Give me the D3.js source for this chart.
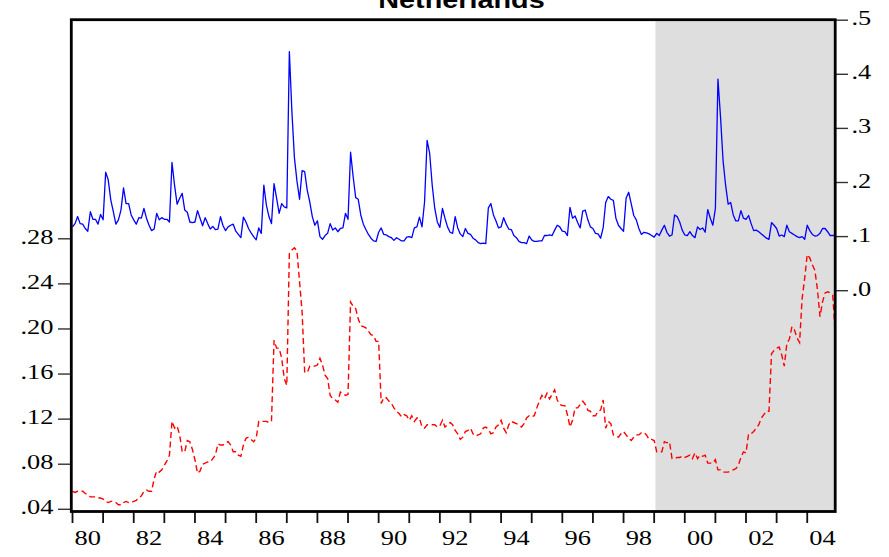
<!DOCTYPE html>
<html>
<head>
<meta charset="utf-8">
<script src="https://cdn.jsdelivr.net/npm/d3@7"></script>
<style>
  html, body { margin: 0; padding: 0; background: #ffffff; }
  svg { display: block; }
</style>
</head>
<body>
<script>
// ---------------- DATA (monthly, 1980M01 - 2004M12) ----------------
const startYear = 1980;
const title = "Netherlands";

// Blue solid series (right axis)
const blueSeries = [
  0.118, 0.124, 0.137, 0.124, 0.123, 0.115, 0.110, 0.146, 0.132, 0.132, 0.123, 0.141,
  0.131, 0.219, 0.205, 0.168, 0.146, 0.123, 0.131, 0.149, 0.190, 0.161, 0.161, 0.140,
  0.131, 0.123, 0.135, 0.134, 0.152, 0.134, 0.121, 0.111, 0.114, 0.143, 0.131, 0.135,
  0.132, 0.132, 0.127, 0.237, 0.195, 0.160, 0.171, 0.180, 0.149, 0.145, 0.127, 0.126,
  0.127, 0.148, 0.134, 0.120, 0.135, 0.124, 0.114, 0.119, 0.113, 0.114, 0.137, 0.120,
  0.111, 0.118, 0.121, 0.123, 0.110, 0.104, 0.098, 0.136, 0.127, 0.115, 0.107, 0.100,
  0.094, 0.116, 0.106, 0.195, 0.158, 0.137, 0.124, 0.198, 0.171, 0.143, 0.161, 0.155,
  0.153, 0.442, 0.331, 0.245, 0.202, 0.169, 0.222, 0.220, 0.186, 0.164, 0.137, 0.121,
  0.129, 0.100, 0.095, 0.102, 0.106, 0.124, 0.112, 0.116, 0.109, 0.115, 0.116, 0.143,
  0.132, 0.256, 0.211, 0.172, 0.169, 0.140, 0.123, 0.113, 0.104, 0.097, 0.092, 0.091,
  0.108, 0.116, 0.104, 0.103, 0.100, 0.098, 0.093, 0.098, 0.095, 0.092, 0.092, 0.099,
  0.100, 0.098, 0.116, 0.118, 0.136, 0.118, 0.164, 0.278, 0.254, 0.195, 0.152, 0.127,
  0.117, 0.152, 0.134, 0.118, 0.108, 0.106, 0.137, 0.116, 0.105, 0.100, 0.115, 0.106,
  0.104, 0.097, 0.094, 0.089, 0.087, 0.088, 0.087, 0.153, 0.161, 0.140, 0.129, 0.116,
  0.118, 0.135, 0.123, 0.114, 0.113, 0.102, 0.098, 0.091, 0.089, 0.089, 0.087, 0.101,
  0.094, 0.091, 0.091, 0.092, 0.092, 0.102, 0.102, 0.103, 0.102, 0.112, 0.121, 0.118,
  0.110, 0.109, 0.102, 0.154, 0.134, 0.138, 0.126, 0.116, 0.147, 0.149, 0.131, 0.118,
  0.115, 0.106, 0.105, 0.097, 0.116, 0.163, 0.174, 0.169, 0.167, 0.134, 0.121, 0.115,
  0.110, 0.171, 0.182, 0.161, 0.139, 0.131, 0.115, 0.104, 0.108, 0.107, 0.105, 0.102,
  0.099, 0.106, 0.102, 0.112, 0.121, 0.108, 0.101, 0.103, 0.140, 0.137, 0.127, 0.112,
  0.103, 0.102, 0.109, 0.102, 0.098, 0.118, 0.113, 0.116, 0.108, 0.150, 0.134, 0.121,
  0.152, 0.391, 0.322, 0.241, 0.195, 0.160, 0.163, 0.140, 0.129, 0.129, 0.148, 0.134,
  0.132, 0.139, 0.124, 0.111, 0.112, 0.109, 0.105, 0.101, 0.097, 0.095, 0.126, 0.121,
  0.115, 0.101, 0.103, 0.100, 0.121, 0.109, 0.106, 0.103, 0.100, 0.098, 0.100, 0.095,
  0.121, 0.111, 0.104, 0.101, 0.102, 0.106, 0.115, 0.115, 0.109, 0.102, 0.102, 0.102
];

// Red dashed series (left axis)
const redSeries = [
  0.056, 0.055, 0.056, 0.056, 0.056, 0.054, 0.053, 0.051, 0.051, 0.051, 0.050, 0.050,
  0.049, 0.047, 0.046, 0.047, 0.047, 0.046, 0.044, 0.044, 0.046, 0.047, 0.046, 0.046,
  0.047, 0.048, 0.050, 0.052, 0.056, 0.057, 0.056, 0.056, 0.067, 0.074, 0.073, 0.075,
  0.079, 0.083, 0.088, 0.118, 0.112, 0.114, 0.106, 0.091, 0.091, 0.101, 0.100, 0.093,
  0.084, 0.072, 0.074, 0.080, 0.081, 0.082, 0.082, 0.085, 0.088, 0.098, 0.097, 0.097,
  0.099, 0.100, 0.097, 0.091, 0.091, 0.088, 0.087, 0.097, 0.103, 0.104, 0.102, 0.100,
  0.103, 0.118, 0.118, 0.118, 0.118, 0.117, 0.118, 0.190, 0.183, 0.183, 0.174, 0.156,
  0.150, 0.267, 0.270, 0.272, 0.269, 0.242, 0.215, 0.162, 0.161, 0.167, 0.167, 0.167,
  0.168, 0.174, 0.168, 0.159, 0.156, 0.141, 0.138, 0.137, 0.135, 0.144, 0.143, 0.141,
  0.142, 0.224, 0.220, 0.218, 0.209, 0.203, 0.202, 0.201, 0.198, 0.195, 0.194, 0.189,
  0.189, 0.134, 0.139, 0.139, 0.136, 0.134, 0.130, 0.127, 0.125, 0.122, 0.124, 0.123,
  0.119, 0.123, 0.118, 0.121, 0.121, 0.113, 0.112, 0.115, 0.115, 0.115, 0.115, 0.113,
  0.114, 0.119, 0.113, 0.115, 0.117, 0.115, 0.110, 0.107, 0.102, 0.104, 0.109, 0.110,
  0.112, 0.107, 0.105, 0.106, 0.107, 0.112, 0.113, 0.111, 0.107, 0.108, 0.113, 0.115,
  0.119, 0.112, 0.108, 0.115, 0.118, 0.117, 0.116, 0.115, 0.113, 0.116, 0.121, 0.123,
  0.122, 0.123, 0.130, 0.136, 0.141, 0.138, 0.143, 0.138, 0.142, 0.146, 0.137, 0.133,
  0.132, 0.132, 0.124, 0.113, 0.119, 0.130, 0.130, 0.133, 0.136, 0.133, 0.128, 0.127,
  0.123, 0.123, 0.127, 0.128, 0.137, 0.112, 0.118, 0.116, 0.106, 0.105, 0.104, 0.107,
  0.109, 0.106, 0.103, 0.101, 0.104, 0.106, 0.106, 0.108, 0.108, 0.106, 0.102, 0.102,
  0.101, 0.091, 0.091, 0.091, 0.100, 0.099, 0.100, 0.085, 0.085, 0.086, 0.086, 0.087,
  0.086, 0.087, 0.088, 0.085, 0.090, 0.085, 0.088, 0.087, 0.088, 0.081, 0.081, 0.081,
  0.084, 0.075, 0.075, 0.073, 0.073, 0.073, 0.074, 0.075, 0.076, 0.079, 0.086, 0.091,
  0.090, 0.107, 0.107, 0.109, 0.112, 0.115, 0.121, 0.124, 0.127, 0.127, 0.178, 0.181,
  0.183, 0.184, 0.177, 0.167, 0.187, 0.191, 0.202, 0.199, 0.192, 0.188, 0.227, 0.245,
  0.266, 0.263, 0.257, 0.252, 0.235, 0.211, 0.224, 0.232, 0.233, 0.232, 0.230, 0.195
];

// Shaded period starts 1999M01 (month index from 1980M01)
const shadeStartYear = 1999;

// Axis ticks / labels
const leftTicks = [0.04, 0.08, 0.12, 0.16, 0.20, 0.24, 0.28];
const leftTickLabels = [".04", ".08", ".12", ".16", ".20", ".24", ".28"];
const rightTicks = [0.0, 0.1, 0.2, 0.3, 0.4, 0.5];
const rightTickLabels = [".0", ".1", ".2", ".3", ".4", ".5"];
const yearTicks = d3.range(1980, 2005);
const yearLabels = ["80","82","84","86","88","90","92","94","96","98","00","02","04"];

// ---------------- DRAWING ----------------
const W = 889, H = 557;
const frame = { left: 71.3, top: 19.7, right: 835.2, bottom: 511.5 };
const n = blueSeries.length;

const svg = d3.select("body").append("svg").attr("width", W).attr("height", H);

const x = d3.scaleLinear().domain([0, n - 1]).range([72.5, 835.3]);
const yL = d3.scaleLinear().domain([0.04, 0.28]).range([509.3, 238.8]);
const yR = d3.scaleLinear().domain([0.0, 0.5]).range([290.7, 20.2]);

const monthIndex = (yr) => (yr - startYear) * 12;

// shading
svg.append("rect")
  .attr("x", x(monthIndex(shadeStartYear) + 0.5))
  .attr("y", frame.top)
  .attr("width", frame.right - x(monthIndex(shadeStartYear) + 0.5))
  .attr("height", frame.bottom - frame.top)
  .attr("fill", "#dedede");

// lines
const lineR = d3.line().x((d, i) => x(i)).y(d => yL(d));
const lineB = d3.line().x((d, i) => x(i)).y(d => yR(d));

svg.append("path").datum(redSeries)
  .attr("d", lineR)
  .attr("fill", "none")
  .attr("stroke", "#ff0000")
  .attr("stroke-width", 1.4)
  .attr("stroke-dasharray", "6,3.5");

svg.append("path").datum(blueSeries)
  .attr("d", lineB)
  .attr("fill", "none")
  .attr("stroke", "#0000ff")
  .attr("stroke-width", 1.3)
  .attr("stroke-linejoin", "round");

// text helper (horizontally stretched, like the original output)
const SX = 1.2;
function label(px, py, str, anchor, size, opts = {}) {
  svg.append("text")
    .attr("transform", `translate(${px},${py}) scale(${SX},1)`)
    .attr("text-anchor", anchor)
    .attr("font-family", opts.family || "'Liberation Serif', 'Times New Roman', serif")
    .attr("font-size", size)
    .attr("font-weight", opts.weight || "normal")
    .attr("fill", "#000")
    .text(str);
}

// left ticks
leftTicks.forEach((v, i) => {
  svg.append("line")
    .attr("x1", 58).attr("x2", frame.left)
    .attr("y1", yL(v)).attr("y2", yL(v))
    .attr("stroke", "#333").attr("stroke-width", 1.4);
  label(53.5, yL(v) + 5, leftTickLabels[i], "end", 22);
});

// right ticks
rightTicks.forEach((v, i) => {
  svg.append("line")
    .attr("x1", frame.right).attr("x2", 848)
    .attr("y1", yR(v)).attr("y2", yR(v))
    .attr("stroke", "#333").attr("stroke-width", 1.4);
  label(851.5, yR(v) + 5, rightTickLabels[i], "start", 22);
});

// bottom ticks (every year)
yearTicks.forEach(yr => {
  const px = x(monthIndex(yr));
  svg.append("line")
    .attr("x1", px).attr("x2", px)
    .attr("y1", frame.bottom).attr("y2", 523)
    .attr("stroke", "#111").attr("stroke-width", 1.8);
});
yearLabels.forEach((s, i) => {
  const yr = 1980 + 2 * i;
  label(x(monthIndex(yr) + 6), 545, s, "middle", 22);
});

// frame
svg.append("rect")
  .attr("x", frame.left).attr("y", frame.top)
  .attr("width", frame.right - frame.left)
  .attr("height", frame.bottom - frame.top)
  .attr("fill", "none")
  .attr("stroke", "#000")
  .attr("stroke-width", 2.8);

// title
label(461.5, 7.5, title, "middle", 24, { family: "'Liberation Sans', Arial, sans-serif", weight: "bold" });
</script>
</body>
</html>
